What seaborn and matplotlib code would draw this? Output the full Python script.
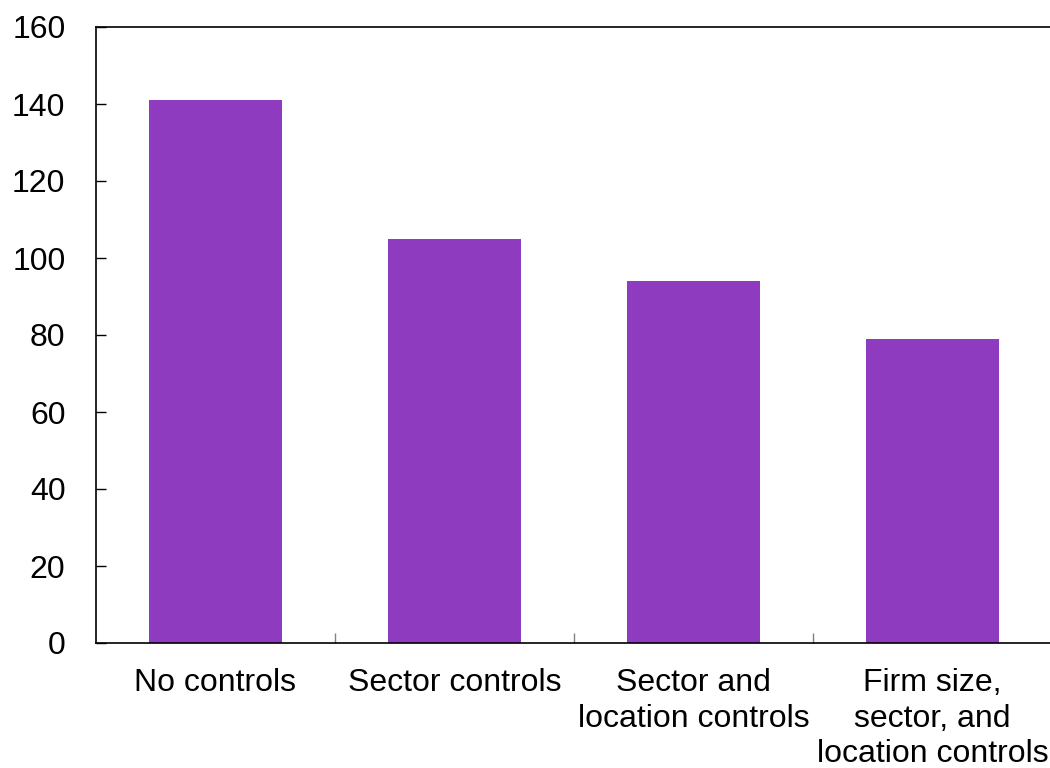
import matplotlib
matplotlib.use("Agg")
import matplotlib.pyplot as plt
import seaborn as sns
import pandas as pd

categories = ["No controls", "Sector controls", "Sector and\nlocation controls",
              "Firm size,\nsector, and\nlocation controls"]
values = [141, 105, 94, 79]
yticks = [0, 20, 40, 60, 80, 100, 120, 140, 160]

sns.set_theme(style="white")
plt.rcParams['font.family'] = ['Liberation Sans', 'DejaVu Sans']

df = pd.DataFrame({"cat": categories, "val": values})

fig = plt.figure(figsize=(10.5, 7.68), dpi=100)
ax = fig.add_axes([96/1050, (768-643)/768, 956/1050, 616/768])
sns.barplot(data=df, x="cat", y="val", color="#8E3BBF", saturation=1,
            width=0.556, linewidth=0, ax=ax)

ax.set_xlim(-0.5, 3.5)
ax.set_ylim(0, 160)
ax.set_yticks(yticks)
ax.set_xlabel("")
ax.set_ylabel("")
for s in ax.spines.values():
    s.set_color("black")
    s.set_linewidth(1.2)
ax.spines["right"].set_visible(False)

ax.tick_params(axis="y", direction="in", length=7, width=1, color="black",
               labelsize=23, pad=22, left=True)
ax.tick_params(axis="x", which="major", length=0, labelsize=23, pad=18)
ax.set_xticks([0.5, 1.5, 2.5], minor=True)
ax.tick_params(axis="x", which="minor", direction="in", length=7, width=1,
               color="#808080", bottom=True)
for lbl in ax.get_xticklabels():
    lbl.set_linespacing(1.24)
    lbl.set_color("black")
for lbl in ax.get_yticklabels():
    lbl.set_color("black")

fig.savefig("out.png", dpi=100)
